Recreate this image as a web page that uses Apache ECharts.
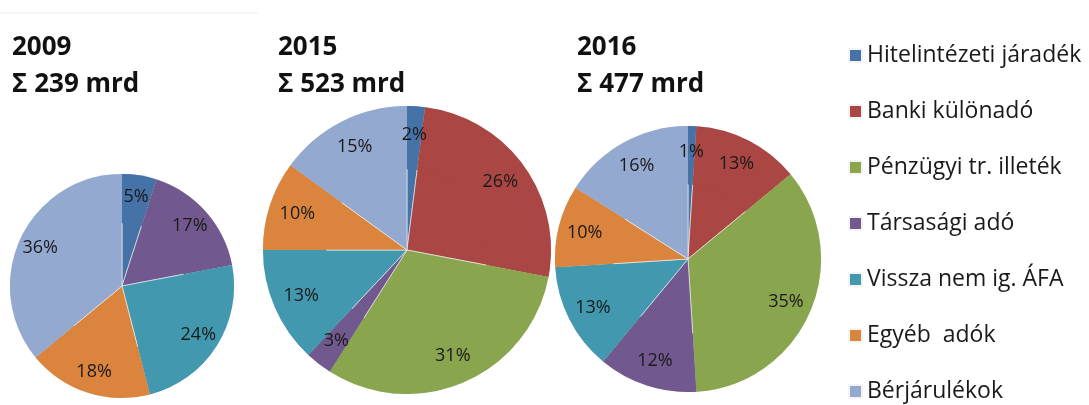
<!DOCTYPE html>
<html lang="hu">
<head>
    <meta charset="UTF-8"/>
    <title>pie</title>
    <script src="https://cdn.jsdelivr.net/npm/echarts@6/dist/echarts.min.js"></script>
    <style>
        html, body { margin: 0; padding: 0; background: #fff; }
        #main { width: 1089px; height: 405px; }
    </style>
</head>
<body>
<div id="main"></div>
<script type="text/javascript">
    // adatok
    var categories = ['Hitelintézeti járadék', 'Banki különadó', 'Pénzügyi tr. illeték',
        'Társasági adó', 'Vissza nem ig. ÁFA', 'Egyéb  adók', 'Bérjárulékok'];
    var colors = ['#4572A7', '#AA4643', '#89A54E', '#71588F', '#4198AF', '#DB843D', '#93A9CF'];
    var years = ['2009', '2015', '2016'];
    var totals = [239, 523, 477];
    var values2009 = [5, 0, 0, 17, 24, 18, 36];
    var values2015 = [2, 26, 31, 3, 13, 10, 15];
    var values2016 = [1, 13, 35, 12, 13, 10, 16];

    var allValues = [values2009, values2015, values2016];
    var centers = [[122, 286], [407, 250], [688, 259]];
    var radii = [112, 144, 133];
    var titleLeft = [12, 278, 577];

    function buildData(vals) {
        var d = [];
        for (var i = 0; i < categories.length; i++) {
            if (vals[i] > 0) {
                d.push({ name: categories[i], value: vals[i], itemStyle: { color: colors[i] } });
            }
        }
        return d;
    }

    var myChart = echarts.init(document.getElementById('main'));

    var series = [];
    var titles = [];
    for (var k = 0; k < 3; k++) {
        // a látható kör
        series.push({
            type: 'pie',
            center: centers[k],
            radius: radii[k],
            startAngle: 90,
            clockwise: true,
            silent: true,
            animation: false,
            label: { show: false },
            labelLine: { show: false },
            itemStyle: { borderColor: '#f4f4f4', borderWidth: 0.6 },
            data: buildData(allValues[k])
        });
        titles.push({
            text: years[k] + '\nΣ ' + totals[k] + ' mrd',
            left: titleLeft[k],
            top: 29,
            padding: 0,
            textStyle: {
                fontFamily: 'Open Sans',
                fontWeight: 'bold',
                fontSize: 26,
                lineHeight: 37,
                color: '#111'
            }
        });
    }
    // átlátszó gyűrű csak a feliratoknak (kijjebb tolja a címkéket)
    for (var k = 0; k < 3; k++) {
        series.push({
            type: 'pie',
            center: centers[k],
            radius: [radii[k] * 0.56, radii[k]],
            startAngle: 90,
            clockwise: true,
            silent: true,
            animation: false,
            itemStyle: { color: 'rgba(0,0,0,0)' },
            label: {
                show: true,
                position: 'inside',
                formatter: '{c}%',
                fontFamily: 'Open Sans',
                fontSize: 18,
                color: '#1a1a1a'
            },
            labelLine: { show: false },
            data: buildData(allValues[k])
        });
    }

    var option = {
        backgroundColor: '#fff',
        title: titles,
        legend: {
            orient: 'vertical',
            left: 848,
            top: 44,
            height: 370,
            padding: 0,
            icon: 'rect',
            itemWidth: 13,
            itemHeight: 13,
            itemGap: 33,
            selectedMode: false,
            data: categories,
            textStyle: { fontFamily: 'Open Sans', fontSize: 23, color: '#1a1a1a' }
        },
        graphic: [{
            type: 'line',
            shape: { x1: 0, y1: 13, x2: 258, y2: 13 },
            style: { stroke: '#ececec', lineWidth: 1 }
        }],
        series: series
    };

    myChart.setOption(option);
</script>
</body>
</html>
